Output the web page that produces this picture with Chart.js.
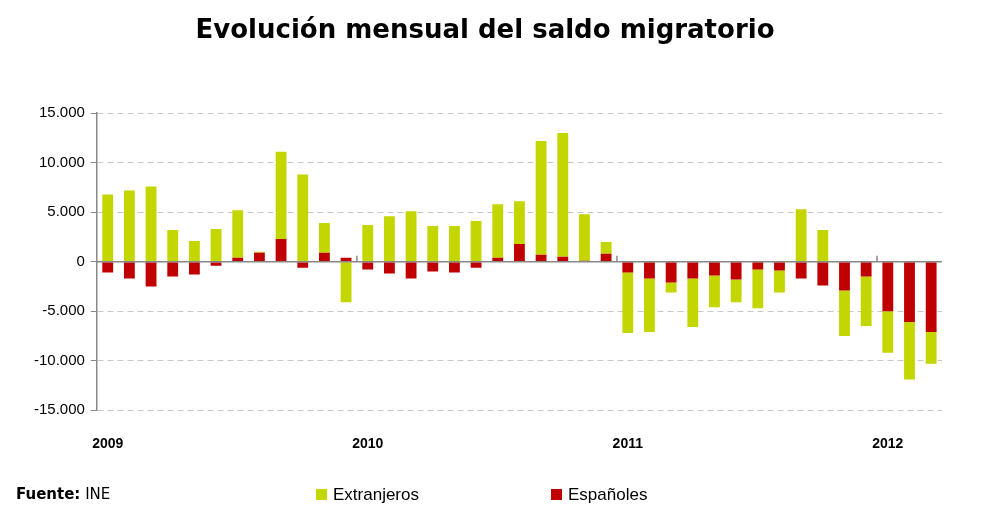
<!DOCTYPE html>
<html><head><meta charset="utf-8">
<script src="https://cdn.jsdelivr.net/npm/chart.js@4/dist/chart.umd.min.js"></script>
<style>
html,body{margin:0;padding:0;background:#fff;}
#wrap{position:relative;width:988px;height:507px;}
#fuente{position:absolute;left:16px;top:485px;font:15px "DejaVu Sans",sans-serif;color:#000;}
.lg{position:absolute;top:485px;font:17px "Liberation Sans",sans-serif;color:#000;}
.lg span{display:inline-block;width:11px;height:11px;margin-right:6px;}
</style></head><body>
<div id="wrap"><canvas id="c" width="988" height="507"></canvas>
<div id="fuente"><b>Fuente:</b> INE</div>
<div class="lg" style="left:316px"><span style="background:#c4d600"></span>Extranjeros</div>
<div class="lg" style="left:551px"><span style="background:#c00000"></span>Españoles</div>
</div>
<script>
const months = [];
const years = ['2009','2010','2011','2012'];
for (let y=0;y<4;y++) for (let m=1;m<=12;m++) if (!(y===3 && m>3)) months.push(years[y]+'-'+String(m).padStart(2,'0'));
const extranjeros = [6800,7200,7600,3200,2100,3300,4800,100,8800,8800,3000,-4100,
  3700,4600,5100,3600,3600,4100,5400,4300,11500,12500,4700,1200,
  -6100,-5400,-1000,-4900,-3200,-2300,-3900,-2200,5300,3200,-4600,-5000,
  -4200,-5800,-3200];
const espanoles = [-1100,-1700,-2500,-1500,-1300,-400,400,900,2300,-600,900,400,
  -800,-1200,-1700,-1000,-1100,-600,400,1800,700,500,100,800,
  -1100,-1700,-2100,-1700,-1400,-1800,-800,-900,-1700,-2400,-2900,-1500,
  -5000,-6100,-7100];
const yTicks = [-15000,-10000,-5000,0,5000,10000,15000];

const zeroLine = {id:'zero', afterDatasetsDraw(ch){
  const y = ch.scales.y.getPixelForValue(0), a = ch.chartArea, c = ch.ctx;
  c.save(); c.strokeStyle='#888'; c.lineWidth=1.5;
  c.beginPath(); c.moveTo(a.left,y); c.lineTo(a.right,y); c.stroke();
  [12,24,36].forEach(i=>{const x=(ch.scales.x.getPixelForValue(i-1)+ch.scales.x.getPixelForValue(i))/2;
    c.beginPath(); c.moveTo(x,y); c.lineTo(x,y-6); c.stroke();});
  c.restore();}};

new Chart(document.getElementById('c'), {
  type:'bar',
  data:{labels:months, datasets:[
    {label:'Españoles', data:espanoles, backgroundColor:'#c00000', categoryPercentage:1, barPercentage:0.5},
    {label:'Extranjeros', data:extranjeros, backgroundColor:'#c4d600', categoryPercentage:1, barPercentage:0.5}
  ]},
  options:{responsive:false, animation:false,
    layout:{padding:{left:28,right:46,top:0,bottom:36}},
    plugins:{
      title:{display:true, text:'Evolución mensual del saldo migratorio', color:'#000',
        font:{family:'DejaVu Sans', size:26, weight:'bold'}, padding:{top:16,bottom:66}},
      legend:{display:false},
      tooltip:{enabled:false}
    },
    scales:{
      x:{stacked:true, grid:{display:false}, border:{display:false},
        ticks:{autoSkip:false, maxRotation:0, padding:18, color:'#000', font:{family:'Liberation Sans', size:14, weight:'bold'},
          callback:(v,i)=> months[i].endsWith('-01') ? months[i].slice(0,4) : ''}},
      y:{stacked:true, min:-15000, max:15000,
        afterBuildTicks:s=>{s.ticks=yTicks.map(v=>({value:v}));},
        grid:{color:'#c8c8c8', drawTicks:true, tickLength:6, tickColor:'#888'},
        border:{color:'#888', width:1.5, dash:[6,4]},
        ticks:{color:'#000', padding:6, font:{family:'Liberation Sans', size:15},
          callback:v=>v.toLocaleString('de-DE')}}
    }
  },
  plugins:[zeroLine]
});
</script></body></html>
